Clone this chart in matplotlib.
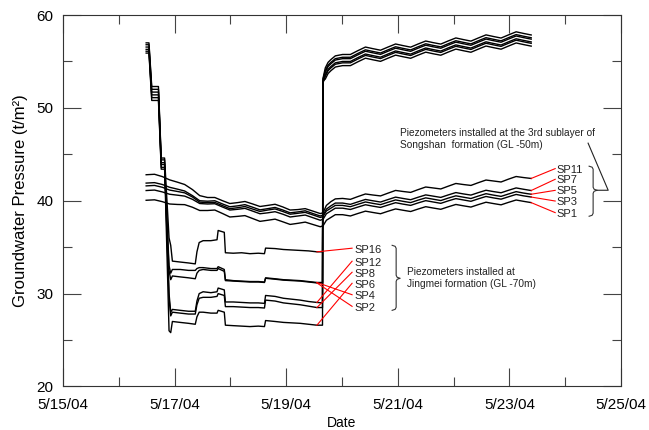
import pandas as pd
import matplotlib
matplotlib.use('Agg')
import matplotlib.pyplot as plt
import matplotlib.dates as mdates
from matplotlib.ticker import MultipleLocator, FuncFormatter

plt.rcParams['font.family'] = ['Liberation Sans', 'DejaVu Sans']

start = pd.Timestamp('2004-05-15')

# elapsed days since 5/15/04 0:00 -- 3rd sublayer of Songshan formation (GL -50m)
t_up = [1.49, 1.64, 1.78, 1.91, 2.05, 2.18, 2.32, 2.45, 2.59, 2.72, 2.86, 2.99, 3.13,
        3.26, 3.40, 3.53, 3.67, 3.80, 3.94, 4.07, 4.21, 4.34, 4.48, 4.61, 4.66,
        4.72, 4.80, 4.88, 5.01, 5.15, 5.28, 5.42, 5.55, 5.69, 5.82, 5.96, 6.09, 6.23,
        6.36, 6.50, 6.63, 6.77, 6.90, 7.04, 7.17, 7.31, 7.44, 7.58, 7.71, 7.85, 7.98,
        8.12, 8.25, 8.39]
sp11 = [42.8, 42.85, 42.6, 42.25, 42.0, 41.75, 41.2, 40.55, 40.35, 40.35, 40.0, 39.7, 39.8,
        39.92, 39.65, 39.38, 39.5, 39.62, 39.33, 39.0, 39.05, 39.15, 38.88, 38.62, 38.7,
        39.5, 39.9, 40.2, 40.25, 40.15, 40.44, 40.73, 40.62, 40.52, 40.81, 41.11, 41.0, 40.9,
        41.19, 41.48, 41.38, 41.27, 41.56, 41.86, 41.75, 41.65, 41.94, 42.23, 42.13, 42.02,
        42.32, 42.61, 42.5, 42.4]
sp7 = [41.9, 41.95, 41.75, 41.45, 41.25, 41.05, 40.55, 40.0, 39.95, 40.0, 39.65, 39.35, 39.45,
       39.58, 39.3, 39.02, 39.15, 39.28, 39.0, 38.7, 38.8, 38.92, 38.62, 38.36, 38.45,
       39.1, 39.45, 39.75, 39.75, 39.61, 39.87, 40.14, 40.0, 39.86, 40.12, 40.39, 40.25, 40.11,
       40.37, 40.63, 40.5, 40.36, 40.62, 40.88, 40.74, 40.61, 40.87, 41.13, 40.99, 40.86,
       41.12, 41.38, 41.24, 41.1]
sp5 = [41.6, 41.65, 41.45, 41.15, 41.0, 40.85, 40.4, 39.85, 39.8, 39.82, 39.47, 39.15, 39.25,
       39.38, 39.1, 38.85, 39.0, 39.12, 38.84, 38.55, 38.65, 38.75, 38.47, 38.2, 38.3,
       38.9, 39.2, 39.5, 39.5, 39.36, 39.61, 39.87, 39.72, 39.58, 39.83, 40.09, 39.94, 39.8,
       40.06, 40.31, 40.17, 40.02, 40.28, 40.53, 40.39, 40.24, 40.5, 40.76, 40.61, 40.47,
       40.72, 40.98, 40.83, 40.7]
sp3 = [41.1, 41.15, 40.95, 40.7, 40.6, 40.5, 40.15, 39.7, 39.65, 39.68, 39.32, 39.0, 39.08,
       39.18, 38.88, 38.6, 38.7, 38.82, 38.55, 38.25, 38.36, 38.46, 38.17, 37.9, 38.0,
       38.6, 38.9, 39.2, 39.2, 39.06, 39.31, 39.57, 39.42, 39.28, 39.53, 39.79, 39.64, 39.5,
       39.76, 40.01, 39.87, 39.72, 39.98, 40.23, 40.09, 39.94, 40.2, 40.46, 40.31, 40.17,
       40.42, 40.68, 40.53, 40.4]
sp1 = [40.05, 40.1, 39.9, 39.65, 39.6, 39.58, 39.3, 38.95, 38.95, 39.0, 38.62, 38.25, 38.32,
       38.4, 38.08, 37.78, 37.9, 38.02, 37.73, 37.45, 37.57, 37.7, 37.44, 37.2, 37.3,
       37.9, 38.2, 38.5, 38.5, 38.36, 38.62, 38.88, 38.74, 38.6, 38.86, 39.12, 38.98, 38.84,
       39.1, 39.36, 39.22, 39.08, 39.34, 39.6, 39.46, 39.32, 39.58, 39.84, 39.7, 39.56,
       39.82, 40.08, 39.94, 39.8]

# Jingmei formation (GL -70m)
t_jm = [1.49, 1.54, 1.59, 1.71, 1.76, 1.82, 1.90, 1.93, 1.96, 2.10, 2.25, 2.37, 2.40, 2.44,
        2.51, 2.65, 2.76, 2.78, 2.89, 2.91, 3.05, 3.20, 3.35, 3.50, 3.61, 3.63, 3.80, 3.95,
        4.10, 4.25, 4.40, 4.55, 4.65, 4.66,
        4.70, 4.75, 4.80, 4.88, 5.01, 5.15, 5.28, 5.42, 5.55, 5.69, 5.82, 5.96, 6.09, 6.23,
        6.36, 6.50, 6.63, 6.77, 6.90, 7.04, 7.17, 7.31, 7.44, 7.58, 7.71, 7.85, 7.98, 8.12,
        8.25, 8.39]
sp16 = [57.0, 57.0, 52.3, 52.3, 44.6, 44.6, 36.0, 35.2, 33.5, 33.4, 33.3, 33.2, 34.5, 35.5,
        35.7, 35.7, 35.8, 36.8, 36.6, 34.4, 34.35, 34.4, 34.3, 34.35, 34.3, 34.9, 34.85, 34.75,
        34.7, 34.65, 34.6, 34.5, 34.5, 53.2,
        54.3, 54.9, 55.2, 55.6, 55.75, 55.75, 56.15, 56.55, 56.38, 56.21, 56.54, 56.88, 56.71,
        56.54, 56.87, 57.2, 57.03, 56.87, 57.2, 57.53, 57.36, 57.19, 57.52, 57.86, 57.69,
        57.52, 57.85, 58.19, 58.02, 57.85]
sp12 = [56.8, 56.8, 52.0, 52.0, 44.4, 44.4, 30.0, 28.0, 28.3, 28.2, 28.1, 28.1, 29.2, 30.0,
        30.2, 30.1, 30.2, 30.6, 30.4, 29.1, 29.1, 29.05, 29.0, 29.0, 28.95, 29.8, 29.7, 29.5,
        29.4, 29.3, 29.15, 29.05, 29.0, 53.1,
        54.0, 54.6, 54.9, 55.3, 55.45, 55.45, 55.85, 56.25, 56.08, 55.91, 56.24, 56.58, 56.41,
        56.24, 56.57, 56.9, 56.73, 56.57, 56.9, 57.23, 57.06, 56.89, 57.22, 57.56, 57.39,
        57.22, 57.55, 57.89, 57.72, 57.55]
sp8 = [56.55, 56.55, 51.7, 51.7, 44.1, 44.1, 29.5, 27.6, 28.0, 27.9, 27.8, 27.8, 28.8, 29.5,
       29.6, 29.6, 29.7, 30.0, 29.8, 28.6, 28.6, 28.55, 28.5, 28.5, 28.45, 29.3, 29.2, 29.0,
       28.9, 28.8, 28.65, 28.5, 28.5, 53.0,
       53.85, 54.45, 54.75, 55.15, 55.3, 55.3, 55.7, 56.1, 55.93, 55.76, 56.09, 56.43, 56.26,
       56.09, 56.42, 56.75, 56.58, 56.42, 56.75, 57.08, 56.91, 56.74, 57.07, 57.41, 57.24,
       57.07, 57.4, 57.74, 57.57, 57.4]
sp6 = [56.3, 56.3, 51.4, 51.4, 43.9, 43.9, 26.0, 25.8, 27.0, 26.9, 26.8, 26.7, 27.5, 28.0,
       28.0, 27.9, 27.9, 28.2, 28.0, 26.6, 26.55, 26.5, 26.45, 26.5, 26.45, 27.1, 27.0, 26.9,
       26.85, 26.8, 26.7, 26.6, 26.6, 52.9,
       53.1, 53.7, 54.0, 54.4, 54.55, 54.55, 54.95, 55.35, 55.18, 55.01, 55.34, 55.68, 55.51,
       55.34, 55.67, 56.0, 55.83, 55.67, 56.0, 56.33, 56.16, 55.99, 56.32, 56.66, 56.49,
       56.32, 56.65, 56.99, 56.82, 56.65]
sp4 = [56.1, 56.1, 51.1, 51.1, 43.6, 43.6, 33.0, 32.2, 32.6, 32.6, 32.5, 32.5, 32.7, 32.8,
       32.8, 32.7, 32.7, 32.9, 32.6, 31.5, 31.4, 31.35, 31.3, 31.3, 31.25, 31.7, 31.6, 31.5,
       31.45, 31.4, 31.3, 31.2, 31.2, 52.8,
       53.55, 54.15, 54.45, 54.85, 55.0, 55.0, 55.4, 55.8, 55.63, 55.46, 55.79, 56.13, 55.96,
       55.79, 56.12, 56.45, 56.28, 56.12, 56.45, 56.78, 56.61, 56.44, 56.77, 57.11, 56.94,
       56.77, 57.1, 57.44, 57.27, 57.1]
sp2 = [55.9, 55.9, 50.8, 50.8, 43.4, 43.4, 32.5, 31.5, 31.9, 31.8, 31.7, 31.6, 32.2, 32.5,
       32.6, 32.5, 32.5, 32.7, 32.4, 31.4, 31.35, 31.3, 31.25, 31.25, 31.2, 31.65, 31.55, 31.45,
       31.4, 31.35, 31.25, 31.15, 31.15, 52.7,
       53.4, 54.0, 54.3, 54.7, 54.85, 54.85, 55.25, 55.65, 55.48, 55.31, 55.64, 55.98, 55.81,
       55.64, 55.97, 56.3, 56.13, 55.97, 56.3, 56.63, 56.46, 56.29, 56.62, 56.96, 56.79,
       56.62, 56.95, 57.29, 57.12, 56.95]

upper_names = ['SP11', 'SP7', 'SP5', 'SP3', 'SP1']
upper_series = [sp11, sp7, sp5, sp3, sp1]
upper_label_y = [43.36, 42.21, 41.02, 39.87, 38.62]

jm_names = ['SP16', 'SP12', 'SP8', 'SP6', 'SP4', 'SP2']
jm_series = [sp16, sp12, sp8, sp6, sp4, sp2]
jm_label_y = [34.74, 33.34, 32.15, 30.96, 29.73, 28.48]


def to_dates(t):
    return start + pd.to_timedelta(t, unit='D')


def day(t):
    return mdates.date2num(start + pd.Timedelta(days=t))


fig = plt.figure(figsize=(6.49, 4.30), dpi=100)
ax = fig.add_axes([0.0971, 0.1012, 0.8598, 0.8639])

for s in upper_series:
    ax.plot(to_dates(t_up), s, color='black', lw=1.0)
for s in jm_series:
    ax.plot(to_dates(t_jm), s, color='black', lw=1.0)

ax.set_xlim(day(0), day(10))
ax.set_ylim(20, 60)
ax.xaxis.set_major_locator(mdates.DayLocator(bymonthday=[15, 17, 19, 21, 23, 25]))
ax.xaxis.set_minor_locator(mdates.DayLocator())
ax.xaxis.set_major_formatter(FuncFormatter(
    lambda v, pos: '{0}/{1}/{2:%y}'.format(mdates.num2date(v).month, mdates.num2date(v).day, mdates.num2date(v))))
ax.yaxis.set_major_locator(MultipleLocator(10))
ax.yaxis.set_minor_locator(MultipleLocator(5))

for sp in ax.spines.values():
    sp.set_color('#333333')
    sp.set_linewidth(0.8)
ax.tick_params(which='both', direction='in', top=True, right=True, color='#444444', width=0.8)
ax.tick_params(which='major', length=13, labelsize=11, pad=7)
ax.tick_params(axis='x', which='major', pad=8)
ax.tick_params(which='minor', length=6.5)

ax.set_xlabel('Date', fontsize=10, labelpad=3)
ax.set_ylabel('Groundwater Pressure (t/m\u00b2)', fontsize=12, labelpad=6)

# pixel scale for the small drawn brackets
bb = ax.get_position()
px_day = bb.width * 649 / 10.0
px_val = bb.height * 430 / 40.0


def brace(t_spine, v_top, v_bot, v_nose):
    x0 = day(t_spine)
    pts = [(-4, v_top, 0), (-1, v_top, -1), (0, v_top, -3), (0, v_nose, 3), (1, v_nose, 1),
           (4, v_nose, 0), (1, v_nose, -1), (0, v_nose, -3), (0, v_bot, 3), (-1, v_bot, 1),
           (-4, v_bot, 0)]
    xs = [x0 + dx / px_day for dx, _, _ in pts]
    ys = [v + dy / px_val for _, v, dy in pts]
    ax.plot(xs, ys, color='#333333', lw=0.8, clip_on=False)


# Jingmei labels and leaders
i_lead = t_jm.index(4.55)
for name, s, ly in zip(jm_names, jm_series, jm_label_y):
    ax.plot([day(4.55), day(5.18)], [s[i_lead], ly + 0.15], color='red', lw=0.8)
    ax.text(day(5.23), ly, name, fontsize=8, ha='left', va='center', color='#222222')
brace(5.97, 35.2, 28.2, 31.65)
ax.text(day(6.16), 32.32, 'Piezometers installed at', fontsize=7.3, ha='left', va='center', color='#222222')
ax.text(day(6.16), 31.07, 'Jingmei formation (GL -70m)', fontsize=7.3, ha='left', va='center', color='#222222')

# Songshan labels and leaders
for name, s, ly in zip(upper_names, upper_series, upper_label_y):
    ax.plot([day(t_up[-1]), day(8.82)], [s[-1], ly + 0.1], color='red', lw=0.8)
    ax.text(day(8.85), ly, name, fontsize=8, ha='left', va='center', color='#222222')
brace(9.50, 43.72, 38.33, 41.13)
ax.plot([day(9.50) + 4 / px_day, day(9.77), day(9.41)], [41.13, 41.13, 46.2], color='#222222', lw=0.8)
ax.text(day(6.04), 47.28, 'Piezometers installed at the 3rd sublayer of', fontsize=7.3,
        ha='left', va='center', color='#222222')
ax.text(day(6.04), 45.98, 'Songshan  formation (GL -50m)', fontsize=7.3,
        ha='left', va='center', color='#222222')

fig.savefig('out.png', dpi=100)
